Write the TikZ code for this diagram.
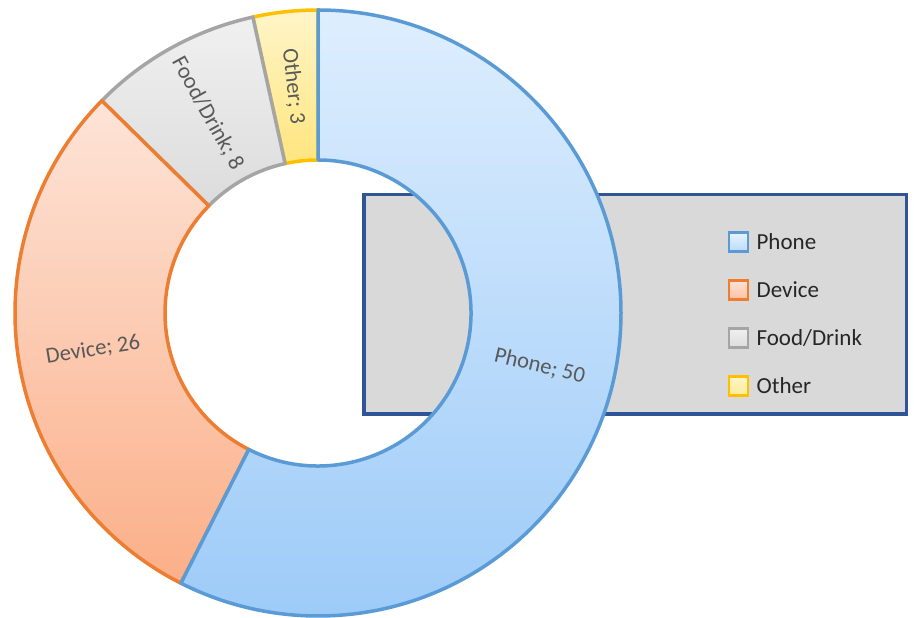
\documentclass[tikz,border=0pt]{standalone}
\usepackage{fontspec}
\setmainfont{Carlito}
\usepackage{xcolor}
\usetikzlibrary{positioning}

\definecolor{phoneline}{HTML}{5B9BD5}
\definecolor{phonetop}{HTML}{DEEEFE}
\definecolor{phonebot}{HTML}{9DCBF8}
\definecolor{deviceline}{HTML}{ED7D31}
\definecolor{devicetop}{HTML}{FDE4D8}
\definecolor{devicebot}{HTML}{FBAF88}
\definecolor{foodline}{HTML}{A5A5A5}
\definecolor{foodtop}{HTML}{F0F0F0}
\definecolor{foodbot}{HTML}{DCDCDC}
\definecolor{otherline}{HTML}{FFC000}
\definecolor{othertop}{HTML}{FFF5C8}
\definecolor{otherbot}{HTML}{FFE57E}
\definecolor{legendline}{HTML}{2F5597}
\definecolor{legendfill}{HTML}{D9D9D9}
\definecolor{labelgray}{HTML}{595959}

\begin{document}
\begin{tikzpicture}[
x=1pt, y=1pt,
slice/.style={line width=3.5pt, line join=round},
legendbox/.style={draw=legendline, fill=legendfill, line width=3.5pt, minimum width=542.5pt, minimum height=219.5pt, inner sep=0pt},
lbl/.style={font=\fontsize{22.5}{27}\selectfont, text=labelgray, inner sep=1pt},
key/.style={draw, line width=2.8pt, minimum size=19pt, inner sep=0pt},
keytext/.style={font=\fontsize{23}{28}\selectfont, text=black!85, inner sep=1pt}
]
\fill[white] (0,0) rectangle (914,618);
\useasboundingbox (0,0) rectangle (914,618);
\coordinate (ctr) at (318,305);

% legend sits behind the ring
\node[legendbox] (legend) at (635,313.5) {};

% ring slices, drawn from last to first
\foreach \a/\b/\lc/\tc/\bc in {
  -257.586/-270/otherline/othertop/otherbot,
  -224.483/-257.586/foodline/foodtop/foodbot,
  -116.897/-224.483/deviceline/devicetop/devicebot,
  90/-116.897/phoneline/phonetop/phonebot}
  \draw[slice, draw=\lc, top color=\tc, bottom color=\bc]
    ([shift={(\a:303)}]ctr) arc[start angle=\a, end angle=\b, radius=303]
    -- ([shift={(\b:153)}]ctr) arc[start angle=\b, end angle=\a, radius=153] -- cycle;

% data labels
\node[lbl, rotate=-13.45] (phonelbl) at ([shift={(-13.45:228)}]ctr) {Phone; 50};
\node[lbl, rotate=9.31] (devicelbl) at ([shift={(-170.69:228)}]ctr) {Device; 26};
\node[lbl, rotate=-61.03] (foodlbl) at ([shift={(-241.03:228)}]ctr) {Food/Drink; 8};
\node[lbl, rotate=-83.79] (otherlbl) at ([shift={(-263.79:228)}]ctr) {Other; 3};

% legend entries
\node[key, draw=phoneline, top color=phonetop!70!white, bottom color=phonebot!70!white] (phonekey) at (738.5,376) {};
\node[key, draw=deviceline, top color=devicetop, bottom color=devicebot!80!white] (devicekey) at (738.5,328) {};
\node[key, draw=foodline, top color=foodtop, bottom color=foodbot] (foodkey) at (738.5,280) {};
\node[key, draw=otherline, top color=othertop, bottom color=otherbot!80!white] (otherkey) at (738.5,232) {};
\node[keytext, right=6pt of phonekey] (phonetext) {Phone};
\node[keytext, right=6pt of devicekey] (devicetext) {Device};
\node[keytext, right=6pt of foodkey] (foodtext) {Food/Drink};
\node[keytext, right=6pt of otherkey] (othertext) {Other};
\end{tikzpicture}
\end{document}
